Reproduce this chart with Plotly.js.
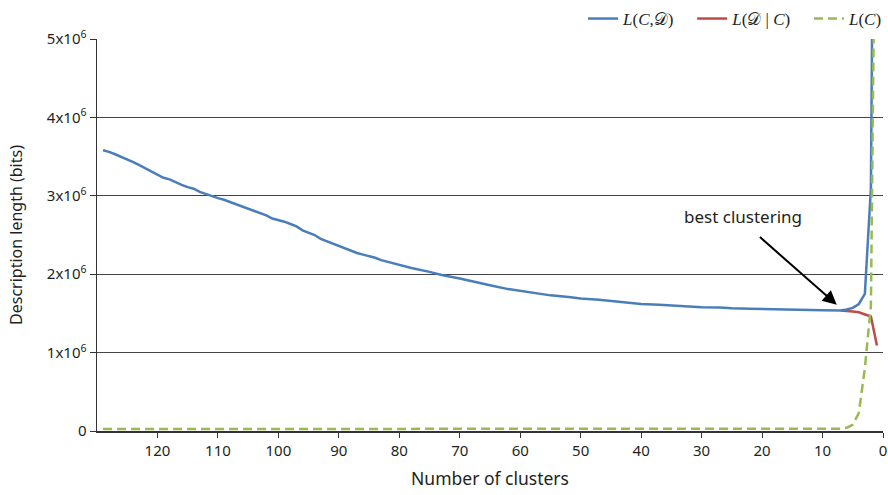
<!DOCTYPE html>
<html>
<head>
<meta charset="utf-8">
<script src="https://cdn.plot.ly/plotly-3.0.1.min.js"></script>
<style>html,body{margin:0;padding:0;background:#fff;}#chart{width:888px;height:495px;}</style>
</head>
<body>
<div id="chart"></div>
<script>
// Number of clusters (x) and description lengths in units of 10^6 bits
const blueClusters = [129,128,127,126,125,124,123,122,121,120,119,118,117,116,115,114,113,112,111,110,
  109,108,107,106,105,104,103,102,101,100,99,98,97,96,95,94,93,92,91,90,89,88,87,86,85,84,83,82,81,80,
  78,75,73,70,67,65,62,60,57,55,52,50,47,45,42,40,37,35,32,30,27,25,22,20,17,15,12,10,8,7,6,5,4,3,2,1];
const blueValues = [3.58,3.56,3.53,3.50,3.46,3.43,3.39,3.35,3.30,3.27,3.23,3.21,3.17,3.14,3.11,3.09,3.05,3.02,2.99,2.97,
  2.95,2.92,2.90,2.87,2.84,2.80,2.78,2.75,2.71,2.69,2.67,2.64,2.61,2.56,2.53,2.50,2.45,2.42,2.39,2.36,2.32,2.30,2.27,2.25,2.23,2.21,2.18,2.16,2.14,2.12,
  2.08,2.03,1.99,1.945,1.89,1.86,1.81,1.785,1.75,1.73,1.71,1.69,1.675,1.66,1.64,1.62,1.61,1.60,1.59,1.58,1.575,1.565,1.56,1.555,1.55,1.547,1.543,1.54,1.538,1.538,1.55,1.57,1.62,1.75,3.1,13.4];

const redClusters = [7,6,5,4,3,2,1];
const redValues   = [1.538,1.535,1.525,1.515,1.49,1.46,1.09];

const greenClusters = [129,110,90,70,50,30,10,7,6,5,4,3,2,1];
const greenValues   = [0.025,0.025,0.025,0.025,0.025,0.025,0.025,0.03,0.04,0.08,0.23,0.8,1.6,9.3];

const yTickVals   = [0,1,2,3,4,5];
const yTickLabels = ['0','1x10<sup>6</sup>','2x10<sup>6</sup>','3x10<sup>6</sup>','4x10<sup>6</sup>','5x10<sup>6</sup>'];
const xTickVals   = [120,110,100,90,80,70,60,50,40,30,20,10,0];

const seriesNames = ['<i>L</i>(<i>C</i>,𝒟)', '<i>L</i>(𝒟 | <i>C</i>)', '<i>L</i>(<i>C</i>)'];

const M = 1e6;
const toBits = a => a.map(v => v * M);
const pad = '\u00a0\u00a0\u00a0';

const traces = [
  {x: redClusters, y: toBits(redValues), type: 'scatter', mode: 'lines', name: seriesNames[1] + pad,
   legendrank: 2, line: {color: '#be4b48', width: 2.5}},
  {x: blueClusters, y: toBits(blueValues), type: 'scatter', mode: 'lines', name: seriesNames[0] + pad,
   legendrank: 1, line: {color: '#4a7ebb', width: 2.5}},
  {x: greenClusters, y: toBits(greenValues), type: 'scatter', mode: 'lines', name: seriesNames[2],
   legendrank: 3, line: {color: '#98b954', width: 2.5, dash: '9px,5px'}}
];

const sans = 'Noto Sans, Open Sans, sans-serif';
const tickFont = {family: sans, size: 15, color: '#231f20'};

const layout = {
  width: 888, height: 495,
  margin: {l: 97, r: 5, t: 39, b: 64, autoexpand: false},
  paper_bgcolor: '#fff', plot_bgcolor: '#fff',
  showlegend: true,
  legend: {orientation: 'h', xref: 'container', yref: 'container', x: 1.0, xanchor: 'right', y: 0.998, yanchor: 'top',
    font: {family: 'Liberation Serif, serif', size: 17, color: '#231f20'},
    itemwidth: 30, tracegroupgap: 0, bgcolor: 'rgba(0,0,0,0)'},
  xaxis: {range: [130, 0], tickvals: xTickVals, ticks: 'outside', ticklen: 5, tickcolor: '#333',
    showline: true, linecolor: '#333', linewidth: 1.5, showgrid: false, zeroline: false,
    tickfont: tickFont,
    title: {text: 'Number of clusters', font: {family: sans, size: 17.5, color: '#231f20'}, standoff: 14}},
  yaxis: {range: [0, 5*M], tickvals: toBits(yTickVals), ticktext: yTickLabels, ticks: 'outside', ticklen: 6, tickcolor: '#333',
    showline: true, linecolor: '#333', linewidth: 1.5, showgrid: true, gridcolor: '#444', gridwidth: 1, zeroline: false,
    tickfont: tickFont,
    title: {text: 'Description length (bits)', font: {family: sans, size: 16, color: '#231f20'}, standoff: 20}},
  annotations: [
    {x: 7.65, y: 1.61*M, ax: 20.6, ay: 2.49*M, axref: 'x', ayref: 'y', xref: 'x', yref: 'y',
     text: '', showarrow: true, arrowhead: 2, arrowsize: 1.4, arrowwidth: 2, arrowcolor: '#000'},
    {x: 23.2, y: 2.73*M, xref: 'x', yref: 'y', text: 'best clustering', showarrow: false,
     font: {family: sans, size: 17, color: '#231f20'}}
  ]
};

Plotly.newPlot('chart', traces, layout, {displayModeBar: false, staticPlot: true});
</script>
</body>
</html>
